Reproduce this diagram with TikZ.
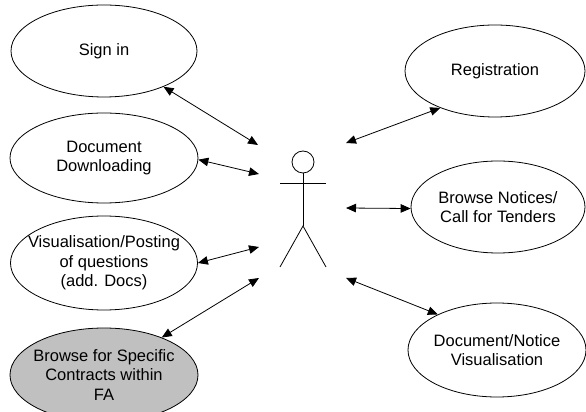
\documentclass[tikz,border=0pt]{standalone}
\usepackage{fontspec}
\setmainfont{Liberation Sans}
\usetikzlibrary{shapes.geometric,arrows.meta}
\definecolor{ucgray}{RGB}{192,192,192}
\tikzset{
  x=1pt,y=1pt,
  usecase/.style={draw=black,line width=0.8pt,ellipse,inner sep=0pt},
  uctext/.style={font=\fontsize{16.5}{19.5}\selectfont,align=center,inner sep=0pt},
  link/.style={line width=0.8pt,{Triangle[length=10pt,width=8.5pt]}-{Triangle[length=10pt,width=8.5pt]}},
  stick/.style={line width=0.8pt}
}
\begin{document}
\begin{tikzpicture}
\useasboundingbox (0,0) rectangle (586,412);
\clip (0,0) rectangle (586,412);
% use cases
\node[usecase,minimum width=186pt,minimum height=92pt,
  label={[uctext]center:Sign in}] (si) at (104,361) {};
\node[usecase,minimum width=188pt,minimum height=90pt,
  label={[uctext]center:{Document\\Downloading}}] (dd) at (104,254) {};
\node[usecase,minimum width=187pt,minimum height=94pt,
  label={[uctext]center:{Visualisation/Posting\\of questions\\(add. Docs)}}] (vp) at (104,149) {};
\node[usecase,fill=ucgray,minimum width=188pt,minimum height=94pt,
  label={[uctext]center:{Browse for Specific\\Contracts within\\FA}}] (bs) at (104,37) {};
\node[usecase,minimum width=180pt,minimum height=92pt,
  label={[uctext]center:Registration}] (rg) at (495,341) {};
\node[usecase,minimum width=174pt,minimum height=92pt,
  label={[uctext]center:{Browse Notices/\\Call for Tenders}}] (bn) at (498,205) {};
\node[usecase,minimum width=178pt,minimum height=94pt,
  label={[uctext]center:{Document/Notice\\Visualisation}}] (dn) at (497,62) {};
% actor
\node[draw,stick,circle,minimum size=22pt,inner sep=0pt] (head) at (303,250) {};
\coordinate (hip) at (303,186);
\coordinate (handl) at (280,229);
\coordinate (handr) at (326,229);
\coordinate (footl) at (280,145);
\coordinate (footr) at (326,145);
\draw[stick] (head.south) -- (hip);
\draw[stick] (handl) -- (handr);
\draw[stick] (footl) -- (hip) -- (footr);
% free ends near actor
\coordinate (a1) at (258,267);
\coordinate (a2) at (259,238);
\coordinate (a3) at (259,165);
\coordinate (a4) at (259,134);
\coordinate (a5) at (346,269);
\coordinate (a6) at (346,204);
\coordinate (a7) at (346,134);
% connectors
\draw[link] (si.-31) -- (a1);
\draw[link] (dd.-1) -- (a2);
\draw[link] (vp.east) -- (a3);
\draw[link] (bs.33) -- (a4);
\draw[link] (rg.214) -- (a5);
\draw[link] (bn.181) -- (a6);
\draw[link] (dn.149) -- (a7);
\end{tikzpicture}
\end{document}
